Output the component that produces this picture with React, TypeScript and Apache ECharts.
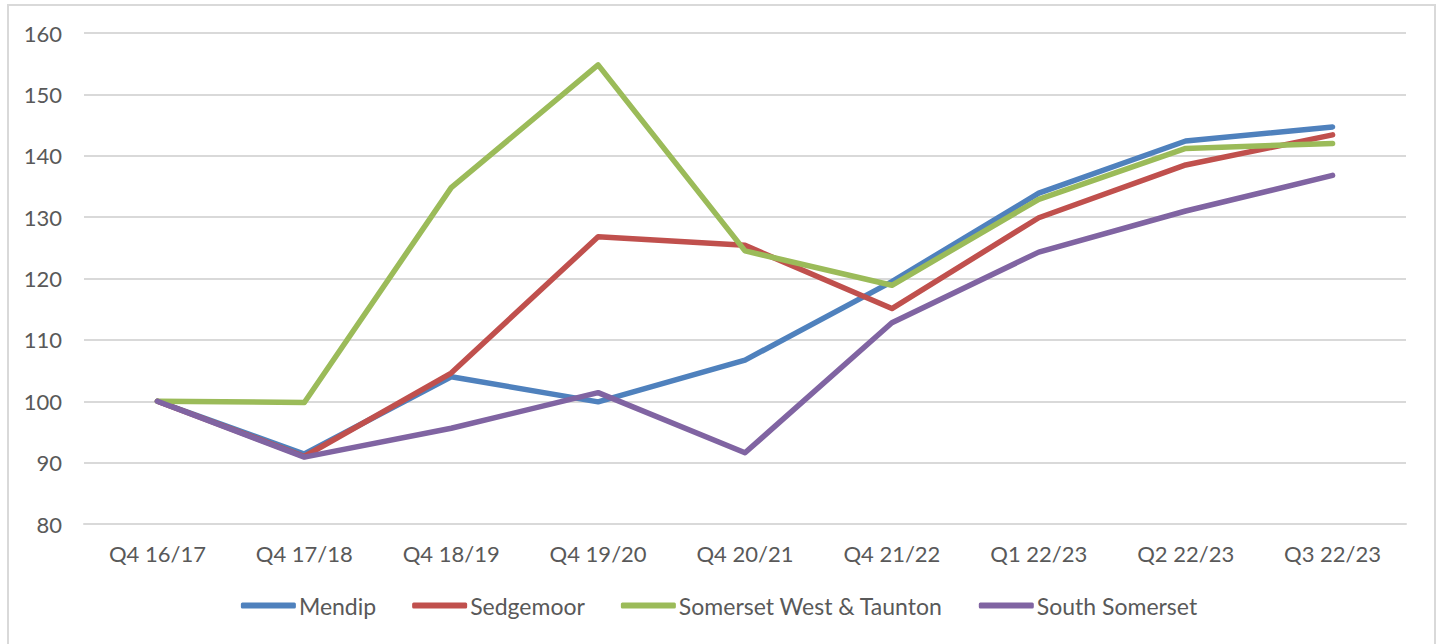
import React, { useEffect, useRef } from "react";
import * as echarts from "echarts";

const categories = [
  "Q4 16/17", "Q4 17/18", "Q4 18/19", "Q4 19/20", "Q4 20/21",
  "Q4 21/22", "Q1 22/23", "Q2 22/23", "Q3 22/23",
];
const mendip = [100, 91.4, 104.0, 99.9, 106.7, 119.5, 133.9, 142.4, 144.7];
const sedgemoor = [100, 91.0, 104.6, 126.8, 125.4, 115.1, 129.9, 138.5, 143.4];
const somersetWestTaunton = [100, 99.8, 134.8, 154.8, 124.5, 118.9, 132.9, 141.2, 142.0];
const southSomerset = [100, 90.9, 95.6, 101.4, 91.6, 112.8, 124.3, 131.0, 136.8];
const seriesNames = ["Mendip", "Sedgemoor", "Somerset West & Taunton", "South Somerset"];
const seriesColors = ["#4F81BD", "#C0504D", "#9BBB59", "#8064A2"];

export default function App() {
  const ref = useRef<HTMLDivElement>(null);
  useEffect(() => {
    if (!ref.current) return;
    const chart = echarts.init(ref.current, null, { renderer: "svg" });
    const data = [mendip, sedgemoor, somersetWestTaunton, southSomerset];
    const font = "Lato, 'Liberation Sans', sans-serif";
    chart.setOption({
      animation: false,
      backgroundColor: "#ffffff",
      graphic: [
        {
          type: "rect",
          shape: { x: 8, y: 5, width: 1427, height: 700 },
          style: { fill: "none", stroke: "#d9d9d9", lineWidth: 2 },
          silent: true,
        },
      ],
      grid: { left: 84, right: 32, top: 33, bottom: 120 },
      legend: {
        bottom: 22,
        left: "center",
        icon: "roundRect",
        itemWidth: 55,
        itemHeight: 6,
        itemGap: 36,
        textStyle: { color: "#595959", fontSize: 23, fontFamily: font, padding: [0, 0, 0, -2] },
        data: seriesNames,
      },
      xAxis: {
        type: "category",
        data: categories,
        boundaryGap: true,
        axisLine: { show: true, lineStyle: { color: "#d9d9d9", width: 2 } },
        axisTick: { show: false },
        axisLabel: { color: "#595959", fontSize: 22, fontFamily: font, margin: 18 },
      },
      yAxis: {
        type: "value",
        min: 80,
        max: 160,
        interval: 10,
        axisLine: { show: false },
        axisTick: { show: false },
        splitLine: { lineStyle: { color: "#d9d9d9", width: 2 } },
        axisLabel: { color: "#595959", fontSize: 22, fontFamily: font, margin: 22 },
      },
      series: seriesNames.map((name, i) => ({
        name,
        type: "line",
        data: data[i],
        symbol: "none",
        showSymbol: false,
        color: seriesColors[i],
        itemStyle: { color: seriesColors[i] },
        lineStyle: { color: seriesColors[i], width: 5.5, cap: "round", join: "round" },
        z: 2 + i,
      })),
    });
    return () => chart.dispose();
  }, []);
  return (
    <div
      ref={ref}
      style={{ position: "absolute", left: 0, top: 0, width: 1438, height: 644 }}
    />
  );
}
